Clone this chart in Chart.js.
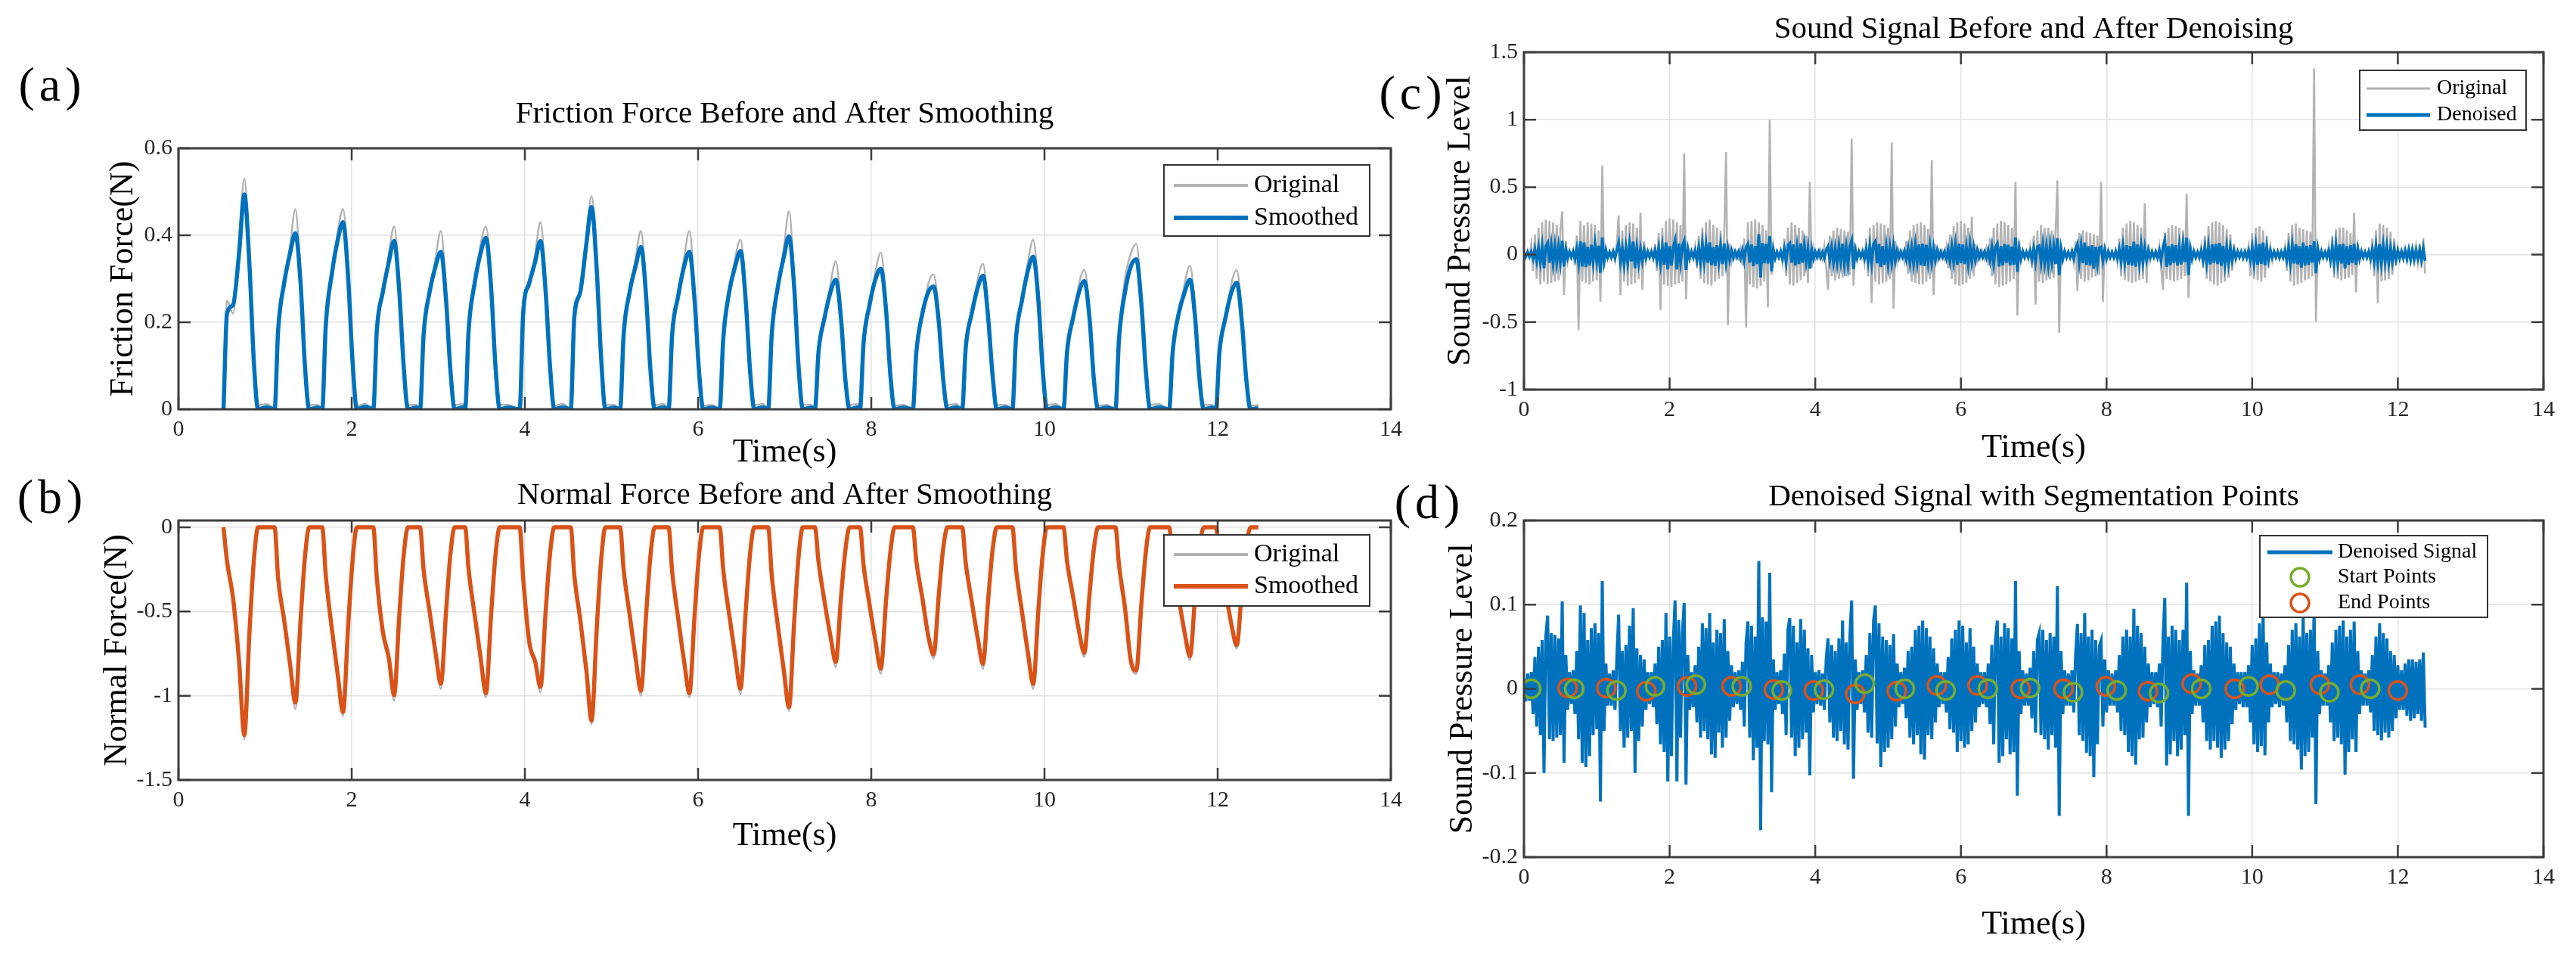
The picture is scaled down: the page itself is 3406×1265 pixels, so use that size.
<!DOCTYPE html>
<html>
<head>
<meta charset="utf-8">
<title>Force and sound signals</title>
<script src="https://cdn.jsdelivr.net/npm/chart.js@4.4.1/dist/chart.umd.min.js"></script>
<style>
  html, body { margin: 0; padding: 0; background: #fff; }
  #page { position: relative; width: 3406px; height: 1265px; overflow: hidden;
          font-family: "Liberation Serif", "Times New Roman", serif; }
  canvas { position: absolute; }
  .tag { position: absolute; font-size: 64px; letter-spacing: 6px; line-height: 1;
         transform: translate(-50%, -50%); color: #000; }
</style>
</head>
<body>
<div id="page">
  <canvas id="chartA" width="1880" height="540" style="left:0px;top:100px"></canvas>
  <canvas id="chartB" width="1880" height="540" style="left:0px;top:620px"></canvas>
  <canvas id="chartC" width="1526" height="640" style="left:1880px;top:0px"></canvas>
  <canvas id="chartD" width="1526" height="645" style="left:1880px;top:620px"></canvas>
  <div class="tag" style="left:69px;top:112px">(a)</div>
  <div class="tag" style="left:69px;top:657px">(b)</div>
  <div class="tag" style="left:1868px;top:123px">(c)</div>
  <div class="tag" style="left:1890px;top:664px">(d)</div>
</div>
<script>
// axis ticks
var timeTicks = [0, 2, 4, 6, 8, 10, 12, 14];
var timeTickLabels = ['0', '2', '4', '6', '8', '10', '12', '14'];
var frictionTicks = [0, 0.2, 0.4, 0.6];
var frictionTickLabels = ['0', '0.2', '0.4', '0.6'];
var normalTicks = [-1.5, -1, -0.5, 0];
var normalTickLabels = ['-1.5', '-1', '-0.5', '0'];
var soundTicks = [-1, -0.5, 0, 0.5, 1, 1.5];
var soundTickLabels = ['-1', '-0.5', '0', '0.5', '1', '1.5'];
var segTicks = [-0.2, -0.1, 0, 0.1, 0.2];
var segTickLabels = ['-0.2', '-0.1', '0', '0.1', '0.2'];

// force signals, one row per loading cycle
var forceTime = [
  0.52,0.56,0.63,0.70,0.76,0.82,0.87,0.92,1.02,
  1.11,1.15,1.22,1.29,1.35,1.41,1.46,1.51,1.61,
  1.66,1.70,1.77,1.84,1.90,1.96,2.01,2.06,2.16,
  2.25,2.29,2.36,2.43,2.49,2.55,2.60,2.65,2.75,
  2.79,2.83,2.90,2.97,3.03,3.09,3.14,3.19,3.29,
  3.31,3.35,3.42,3.49,3.55,3.61,3.66,3.71,3.81,
  3.94,3.98,4.05,4.12,4.18,4.24,4.29,4.34,4.44,
  4.53,4.57,4.64,4.71,4.77,4.83,4.88,4.93,5.03,
  5.10,5.14,5.21,5.28,5.34,5.40,5.45,5.50,5.60,
  5.66,5.70,5.77,5.84,5.90,5.96,6.01,6.06,6.16,
  6.25,6.29,6.36,6.43,6.49,6.55,6.60,6.65,6.75,
  6.81,6.85,6.92,6.99,7.05,7.11,7.16,7.21,7.31,
  7.35,7.39,7.46,7.53,7.59,7.65,7.70,7.75,7.85,
  7.87,7.91,7.98,8.05,8.11,8.17,8.22,8.27,8.37,
  8.48,8.52,8.59,8.66,8.72,8.78,8.83,8.88,8.98,
  9.05,9.09,9.16,9.23,9.29,9.35,9.40,9.45,9.55,
  9.63,9.67,9.74,9.81,9.87,9.93,9.98,10.03,10.13,
  10.22,10.26,10.33,10.40,10.46,10.52,10.57,10.62,10.72,
  10.82,10.86,10.93,11.00,11.06,11.12,11.17,11.22,11.32,
  11.44,11.48,11.55,11.62,11.68,11.74,11.79,11.84,11.94,
  11.98,12.02,12.09,12.16,12.22,12.28,12.33,12.38,12.47
];
var frictionSmoothed = [
  0,0.22,0.24,0.36,0.494,0.33,0.11,0,0.005,
  0,0.18,0.29,0.36,0.405,0.29,0.10,0,0.004,
  0,0.19,0.31,0.39,0.43,0.30,0.11,0,0.006,
  0,0.18,0.27,0.34,0.387,0.27,0.10,0,0.004,
  0,0.17,0.27,0.33,0.362,0.25,0.09,0,0.005,
  0,0.18,0.29,0.36,0.394,0.28,0.10,0,0.004,
  0,0.22,0.29,0.34,0.387,0.27,0.10,0,0.005,
  0,0.21,0.27,0.38,0.465,0.32,0.12,0,0.004,
  0,0.17,0.27,0.33,0.373,0.26,0.09,0,0.005,
  0,0.17,0.26,0.33,0.362,0.25,0.09,0,0.004,
  0,0.16,0.27,0.33,0.364,0.25,0.09,0,0.005,
  0,0.17,0.28,0.35,0.398,0.28,0.10,0,0.004,
  0,0.13,0.21,0.27,0.298,0.21,0.07,0,0.005,
  0,0.15,0.24,0.30,0.323,0.23,0.08,0,0.004,
  0,0.13,0.22,0.27,0.282,0.20,0.07,0,0.005,
  0,0.14,0.22,0.28,0.307,0.21,0.08,0,0.004,
  0,0.16,0.25,0.32,0.351,0.25,0.09,0,0.005,
  0,0.13,0.21,0.27,0.295,0.21,0.07,0,0.004,
  0,0.16,0.27,0.33,0.345,0.24,0.09,0,0.005,
  0,0.13,0.22,0.27,0.298,0.21,0.07,0,0.004,
  0,0.13,0.21,0.27,0.291,0.20,0.07,0,0.003
];
var frictionOriginal = [
  0,0.25,0.22,0.39,0.53,0.35,0.13,0.01,0.012,
  0,0.19,0.28,0.38,0.46,0.30,0.12,0.01,0.01,
  0,0.20,0.30,0.41,0.46,0.32,0.12,0.008,0.012,
  0,0.19,0.26,0.36,0.42,0.29,0.11,0.01,0.01,
  0,0.18,0.26,0.35,0.41,0.27,0.10,0.01,0.012,
  0,0.19,0.28,0.38,0.42,0.30,0.11,0.01,0.01,
  0,0.24,0.28,0.36,0.43,0.29,0.11,0.008,0.012,
  0,0.23,0.26,0.40,0.49,0.34,0.13,0.01,0.01,
  0,0.18,0.26,0.35,0.41,0.28,0.10,0.01,0.012,
  0,0.18,0.25,0.35,0.41,0.27,0.10,0.008,0.01,
  0,0.17,0.26,0.35,0.39,0.27,0.10,0.01,0.012,
  0,0.18,0.27,0.37,0.455,0.30,0.11,0.01,0.01,
  0,0.14,0.20,0.29,0.34,0.23,0.08,0.01,0.012,
  0,0.16,0.23,0.32,0.36,0.25,0.09,0.008,0.01,
  0,0.14,0.21,0.29,0.31,0.22,0.08,0.01,0.012,
  0,0.15,0.21,0.30,0.335,0.23,0.09,0.01,0.01,
  0,0.17,0.24,0.34,0.39,0.27,0.10,0.01,0.012,
  0,0.14,0.20,0.29,0.32,0.23,0.08,0.008,0.01,
  0,0.17,0.30,0.36,0.38,0.26,0.10,0.01,0.012,
  0,0.14,0.21,0.29,0.33,0.23,0.08,0.01,0.01,
  0,0.14,0.20,0.29,0.32,0.22,0.08,0.008,0.01
];
var normalSmoothed = [
  0,-0.20,-0.42,-0.80,-1.233,-0.62,-0.20,0,0,
  0,-0.30,-0.55,-0.82,-1.04,-0.55,-0.18,0,0,
  0,-0.28,-0.60,-0.88,-1.096,-0.58,-0.20,0,0,
  0,-0.30,-0.62,-0.78,-0.996,-0.52,-0.17,0,0,
  0,-0.25,-0.50,-0.75,-0.93,-0.50,-0.16,0,0,
  0,-0.25,-0.52,-0.78,-0.985,-0.52,-0.17,0,0,
  0,-0.30,-0.68,-0.80,-0.948,-0.50,-0.16,0,0,
  0,-0.28,-0.55,-0.85,-1.147,-0.60,-0.20,0,0,
  0,-0.25,-0.52,-0.78,-0.97,-0.52,-0.17,0,0,
  0,-0.26,-0.54,-0.80,-0.985,-0.52,-0.17,0,0,
  0,-0.25,-0.52,-0.77,-0.958,-0.50,-0.16,0,0,
  0,-0.28,-0.58,-0.85,-1.068,-0.56,-0.18,0,0,
  0,-0.20,-0.44,-0.65,-0.80,-0.42,-0.14,0,0,
  0,-0.22,-0.46,-0.68,-0.84,-0.44,-0.15,0,0,
  0,-0.20,-0.42,-0.65,-0.755,-0.40,-0.13,0,0,
  0,-0.21,-0.44,-0.66,-0.81,-0.43,-0.14,0,0,
  0,-0.24,-0.50,-0.75,-0.93,-0.49,-0.16,0,0,
  0,-0.20,-0.41,-0.62,-0.746,-0.40,-0.13,0,0,
  0,-0.22,-0.48,-0.80,-0.85,-0.45,-0.15,0,0,
  0,-0.20,-0.42,-0.63,-0.765,-0.41,-0.13,0,0,
  0,-0.18,-0.38,-0.58,-0.70,-0.37,-0.12,0,0
];
var normalOriginal = [
  0,-0.22,-0.44,-0.83,-1.26,-0.64,-0.22,-0.01,0.005,
  0,-0.31,-0.57,-0.84,-1.08,-0.57,-0.19,-0.01,0.005,
  0,-0.29,-0.62,-0.90,-1.12,-0.60,-0.21,-0.01,0.005,
  0,-0.31,-0.64,-0.80,-1.03,-0.54,-0.18,-0.01,0.005,
  0,-0.26,-0.52,-0.77,-0.96,-0.52,-0.17,-0.01,0.005,
  0,-0.26,-0.54,-0.80,-1.01,-0.54,-0.18,-0.01,0.005,
  0,-0.31,-0.70,-0.82,-0.98,-0.52,-0.17,-0.01,0.005,
  0,-0.29,-0.57,-0.87,-1.17,-0.62,-0.21,-0.01,0.005,
  0,-0.26,-0.54,-0.80,-1.00,-0.54,-0.18,-0.01,0.005,
  0,-0.27,-0.56,-0.82,-1.01,-0.54,-0.18,-0.01,0.005,
  0,-0.26,-0.54,-0.79,-0.99,-0.52,-0.17,-0.01,0.005,
  0,-0.29,-0.60,-0.87,-1.09,-0.58,-0.19,-0.01,0.005,
  0,-0.21,-0.46,-0.67,-0.83,-0.44,-0.15,-0.01,0.005,
  0,-0.23,-0.48,-0.70,-0.87,-0.46,-0.16,-0.01,0.005,
  0,-0.21,-0.44,-0.67,-0.78,-0.42,-0.14,-0.01,0.005,
  0,-0.22,-0.46,-0.68,-0.84,-0.45,-0.15,-0.01,0.005,
  0,-0.25,-0.52,-0.77,-0.96,-0.51,-0.17,-0.01,0.005,
  0,-0.21,-0.43,-0.64,-0.77,-0.42,-0.14,-0.01,0.005,
  0,-0.23,-0.50,-0.82,-0.87,-0.47,-0.16,-0.01,0.005,
  0,-0.21,-0.44,-0.65,-0.79,-0.43,-0.14,-0.01,0.005,
  0,-0.19,-0.40,-0.60,-0.72,-0.39,-0.13,-0.01,0.005
];

// sound signals, one sample every 0.025 s, 20 samples per row (0.5 s)
var soundStep = 0.025;
// raw sound pressure, in hundredths
var soundOriginal = [
  2,-2,3,-2,8,-12,15,-18,20,-22,24,-20,26,-22,25,-21,24,-20,22,-19,
  18,32,-30,10,-5,3,-2,3,-8,14,-56,25,-20,22,-21,24,-22,23,-20,22,
  -19,18,-35,66,-10,5,-3,2,-2,3,-4,8,29,-30,18,-20,22,-23,24,-22,
  23,-21,20,-18,31,-26,10,-5,3,-2,3,-3,8,-12,16,-41,20,-22,25,-23,
  27,-24,26,-22,24,-21,22,-20,75,-33,8,-4,3,-2,6,-10,14,-18,20,-21,
  24,-22,26,-23,22,-20,20,-18,18,-16,14,76,-52,8,-5,3,-2,2,-3,4,
  -8,12,-54,24,-22,25,-24,26,-25,24,-23,22,-20,18,-39,100,-15,6,-3,2,
  -2,3,-6,12,-16,20,-22,24,-23,22,-21,20,-19,18,-16,14,-21,54,-10,5,
  -3,2,-2,3,-3,6,-10,-26,14,-16,18,-19,20,-18,19,-17,18,-16,17,-15,
  86,-23,8,-4,3,-2,3,-6,12,-16,20,-36,22,-20,24,-22,23,-21,22,-20,
  20,-18,83,-40,10,-5,3,-2,2,-5,10,-14,18,-20,22,-21,23,-22,24,-22,
  22,-20,19,-18,70,-30,8,-4,3,-2,2,-3,6,-10,15,-18,21,-22,24,-23,
  25,-22,23,-21,20,-18,28,-16,8,-4,3,-2,2,-3,4,-8,12,-16,20,-22,
  23,-24,25,-23,24,-22,22,-20,20,-18,54,-45,10,-5,3,-2,2,-3,6,-10,
  14,-37,18,-20,22,-21,20,-19,20,-18,18,-17,16,55,-58,8,-5,3,-2,2,
  -2,3,-6,10,-27,16,-18,18,-20,17,-19,16,-17,15,-16,14,-15,54,-35,8,
  -4,3,-2,2,-3,3,-6,12,-16,20,-19,23,-20,25,-21,24,-20,22,-19,20,
  -18,38,-21,8,-4,3,-2,2,-3,6,-10,-26,16,-18,20,-19,22,-20,21,-19,
  20,-18,18,-16,45,-32,8,-4,3,-2,2,-3,6,-10,14,-18,21,-20,24,-22,
  25,-23,24,-21,22,-20,19,-17,15,-12,8,-4,3,-2,2,-3,3,-2,6,-16,
  16,-18,20,-19,21,-20,18,-17,14,-10,6,-4,3,-2,2,-3,3,-2,6,-12,
  16,-20,22,-23,23,-22,20,-21,19,-19,18,-18,17,-16,138,-50,8,-4,3,-2,
  2,-3,6,-10,14,-17,19,-18,20,-19,20,-18,18,-17,16,-15,31,-28,8,-4,
  3,-2,2,-3,3,-6,12,-16,18,-36,23,-20,22,-19,20,-18,17,-15,12,-8,
  5,-4,3,-3,3,-2,3,-3,4,-5,6,-6,8,-10,12,-14
];
// denoised sound pressure, in thousandths
var soundDenoised = [
  12,-15,18,-14,20,-30,38,-45,50,-55,58,-100,62,87,-60,66,-62,64,-58,60,
  -55,104,-88,40,-25,20,-18,22,-30,45,-60,99,-88,90,-93,58,-80,72,-55,78,
  -48,66,-134,128,-50,30,-20,18,-20,22,-25,35,88,-50,45,-70,52,-58,75,-50,
  96,-100,48,-62,40,-45,35,-25,20,-18,20,-22,30,-42,50,-66,58,-75,90,-110,
  62,-80,55,105,-110,82,-58,66,102,-114,40,-25,20,-22,28,-40,50,-58,78,-50,
  72,-60,90,-78,55,-82,70,-52,66,-70,83,-58,45,-38,28,-22,20,-18,22,-25,
  32,-45,55,80,-58,75,-85,62,-70,152,-168,85,-62,80,-66,138,-123,35,-25,20,
  -18,22,-30,42,-55,70,84,-58,75,-80,55,-70,83,-60,70,-52,48,-103,40,-28,
  20,-18,22,-20,18,-25,35,60,-40,52,-58,45,-62,60,-50,81,-66,55,-72,62,
  105,-107,35,-25,20,-18,22,-28,40,-52,66,-58,80,99,-65,78,-93,62,-75,58,
  -70,52,-60,65,-45,30,-22,20,-18,25,-35,45,-58,50,-66,70,-55,75,-78,81,
  -84,72,-55,62,-60,48,-40,30,-22,20,-18,20,-28,38,-48,60,-52,70,-75,81,
  -62,75,-70,55,-66,72,-50,50,-40,30,-22,20,-18,20,-22,30,-42,52,-66,58,
  81,-88,62,-80,78,-60,72,-78,60,-75,128,-127,45,-30,22,-20,18,-20,25,-35,
  45,-52,58,66,-55,70,-60,58,-72,66,-55,62,-70,122,-151,45,-30,22,-20,18,
  -20,22,-28,40,77,-55,66,-62,90,-76,62,-80,70,-105,58,-66,50,57,-45,35,
  -28,22,-20,18,-20,22,-28,40,-50,62,-55,70,-75,62,-80,95,-90,75,-60,66,
  -58,50,-40,30,-22,20,-18,20,-22,30,-45,58,108,-91,62,-78,75,-62,70,-80,
  58,-72,70,-55,126,-151,45,-30,22,-20,18,-20,28,-40,52,-62,58,-72,75,-62,
  80,-70,87,-82,66,-72,55,-62,50,-42,30,-25,20,-18,20,-22,20,-22,28,-40,
  52,-66,60,-75,78,-68,90,-79,55,-40,30,-22,20,-18,20,-22,18,-20,28,-40,
  52,-62,70,-66,78,-72,62,-96,90,-80,66,-75,70,-58,100,-137,45,-30,22,-20,
  18,-20,28,-40,55,-62,70,-58,75,-66,81,-102,62,-75,70,-60,80,-75,45,-30,
  22,-20,18,-20,22,-28,40,-50,62,-55,78,-61,66,-52,60,-58,45,-50,40,-35,
  28,-25,22,-25,30,-32,35,-38,35,-35,32,-30,35,-38,43,-46
];

// segmentation points found on the denoised signal
var startTimes = [0.10,0.69,1.27,1.80,2.36,2.99,3.54,4.12,4.68,5.23,5.79,6.37,6.95,7.54,8.14,8.72,9.30,9.95,10.46,11.06,11.62];
var startLevels = [0,0,-0.002,0.003,0.005,0.003,-0.002,-0.001,0.006,0,-0.002,0,0.001,-0.004,-0.002,-0.005,0,0.003,-0.002,-0.004,0];
var endTimes = [0.60,1.13,1.68,2.24,2.85,3.43,3.98,4.55,5.12,5.67,6.23,6.82,7.41,7.99,8.57,9.17,9.76,10.24,10.93,11.48,12.00];
var endLevels = [0.001,0.001,-0.003,0.003,0.003,-0.001,-0.002,-0.006,-0.003,0.004,0.004,0,0,0.003,-0.003,0.006,0,0.005,0.005,0.005,-0.002];

var FONT = '"Liberation Serif", "Times New Roman", serif';
Chart.defaults.font.family = FONT;
Chart.defaults.color = '#262626';

var BLUE = '#0072bd', ORANGE = '#d95319', GREEN = '#77ac30', GRAY = '#b3b3b3';

function pairs(xs, ys, k) {
    return ys.map(function (v, i) { return { x: xs[i], y: v * (k || 1) }; });
}
function sampled(ys, k) {
    return ys.map(function (v, i) { return { x: +(i * soundStep).toFixed(3), y: v * k }; });
}

// matlab style box: frame, inward ticks on four sides, legend inside the axes
var frameTicks = {
    id: 'frameTicks',
    afterDatasetsDraw: function (chart, args, opts) {
        var ctx = chart.ctx, a = chart.chartArea, sx = chart.scales.x, sy = chart.scales.y;
        ctx.save();
        ctx.strokeStyle = '#3d3d3d';
        ctx.lineWidth = 2.5;
        ctx.beginPath();
        sx.ticks.forEach(function (t) {
            var p = sx.getPixelForValue(t.value);
            ctx.moveTo(p, a.bottom); ctx.lineTo(p, a.bottom - 16);
            ctx.moveTo(p, a.top); ctx.lineTo(p, a.top + 16);
        });
        sy.ticks.forEach(function (t) {
            var p = sy.getPixelForValue(t.value);
            ctx.moveTo(a.left, p); ctx.lineTo(a.left + 16, p);
            ctx.moveTo(a.right, p); ctx.lineTo(a.right - 16, p);
        });
        ctx.stroke();
        ctx.lineWidth = 3;
        ctx.strokeRect(a.left, a.top, a.right - a.left, a.bottom - a.top);

        var lg = opts.box;
        if (lg) {
            var ox = chart.canvas.offsetLeft, oy = chart.canvas.offsetTop;
            ctx.fillStyle = '#fff';
            ctx.fillRect(lg.x - ox, lg.y - oy, lg.w, lg.h);
            ctx.strokeStyle = '#333';
            ctx.lineWidth = 2;
            ctx.strokeRect(lg.x - ox, lg.y - oy, lg.w, lg.h);
            ctx.font = lg.size + 'px ' + FONT;
            ctx.textBaseline = 'middle';
            ctx.textAlign = 'left';
            lg.items.forEach(function (idx, k) {
                var ds = chart.data.datasets[idx];
                var cy = lg.rows[k] - oy;
                ctx.strokeStyle = ds.borderColor;
                ctx.beginPath();
                if (ds.showLine === false) {
                    ctx.lineWidth = ds.pointBorderWidth;
                    ctx.arc((lg.line[0] + lg.line[1]) / 2 - ox, cy, ds.pointRadius, 0, Math.PI * 2);
                } else {
                    ctx.lineWidth = lg.widths[k];
                    ctx.moveTo(lg.line[0] - ox, cy);
                    ctx.lineTo(lg.line[1] - ox, cy);
                }
                ctx.stroke();
                ctx.fillStyle = '#000';
                ctx.fillText(ds.label, lg.textX - ox, cy);
            });
        }
        ctx.restore();
    }
};

function makePanel(id, geo, yAxis, datasets, box) {
    var canvas = document.getElementById(id);
    var cx = canvas.offsetLeft, cy = canvas.offsetTop;
    var cw = canvas.width, ch = canvas.height;
    var tHalf = 41 * 1.2 / 2, aHalf = 44 * 1.2 / 2;
    var xH = geo.xTitleY - geo.B + aHalf + 4;
    var grid = { color: '#e2e2e2', lineWidth: 1.5, drawTicks: false };

    return new Chart(canvas, {
        type: 'line',
        data: { datasets: datasets },
        options: {
            responsive: false,
            animation: false,
            events: [],
            layout: {
                padding: {
                    left: 0,
                    top: geo.titleY - cy - tHalf,
                    right: cx + cw - geo.R,
                    bottom: cy + ch - geo.B - xH
                }
            },
            elements: { point: { radius: 0 }, line: { tension: 0 } },
            plugins: {
                legend: { display: false },
                tooltip: { enabled: false },
                title: {
                    display: true,
                    fullSize: false,
                    text: geo.title,
                    color: '#000',
                    font: { size: 41, weight: 'normal' },
                    padding: { top: 0, bottom: geo.T - geo.titleY - tHalf }
                },
                frameTicks: { box: box }
            },
            scales: {
                x: {
                    type: 'linear', min: 0, max: 14,
                    afterBuildTicks: function (s) { s.ticks = timeTicks.map(function (v) { return { value: v }; }); },
                    afterFit: function (s) { s.height = xH; },
                    ticks: {
                        padding: 9, font: { size: 30 }, maxRotation: 0, autoSkip: false,
                        callback: function (v, i) { return timeTickLabels[i]; }
                    },
                    grid: grid,
                    border: { display: false },
                    title: { display: true, text: 'Time(s)', color: '#000', font: { size: 44 }, padding: { top: 0, bottom: 4 } }
                },
                y: {
                    type: 'linear', min: yAxis.min, max: yAxis.max,
                    afterBuildTicks: function (s) { s.ticks = yAxis.ticks.map(function (v) { return { value: v }; }); },
                    afterFit: function (s) { s.width = geo.L - cx; },
                    ticks: {
                        padding: 8, font: { size: 30 }, autoSkip: false,
                        callback: function (v, i) { return yAxis.labels[i]; }
                    },
                    grid: grid,
                    border: { display: false },
                    title: {
                        display: true, text: yAxis.title, color: '#000', font: { size: 44 },
                        padding: { top: geo.yTitleX - cx - aHalf, bottom: 0 }
                    }
                }
            }
        },
        plugins: [frameTicks]
    });
}

// (a) friction force
makePanel('chartA',
    { title: 'Friction Force Before and After Smoothing', L: 236, T: 196, R: 1839, B: 541, titleY: 151, xTitleY: 598, yTitleX: 163 },
    { min: 0, max: 0.6, ticks: frictionTicks, labels: frictionTickLabels, title: 'Friction Force(N)' },
    [
        { label: 'Smoothed', data: pairs(forceTime, frictionSmoothed), borderColor: BLUE, borderWidth: 5.5, cubicInterpolationMode: 'monotone' },
        { label: 'Original', data: pairs(forceTime, frictionOriginal), borderColor: GRAY, borderWidth: 2.5, cubicInterpolationMode: 'monotone' }
    ],
    { x: 1539, y: 218, w: 272, h: 94, rows: [245, 288], items: [1, 0], widths: [4, 6], line: [1552, 1650], textX: 1658, size: 34 }
);

// (b) normal force
makePanel('chartB',
    { title: 'Normal Force Before and After Smoothing', L: 236, T: 688, R: 1839, B: 1031, titleY: 655, xTitleY: 1105, yTitleX: 155 },
    { min: -1.5, max: 0.04, ticks: normalTicks, labels: normalTickLabels, title: 'Normal Force(N)' },
    [
        { label: 'Smoothed', data: pairs(forceTime, normalSmoothed), borderColor: ORANGE, borderWidth: 5.5, cubicInterpolationMode: 'monotone' },
        { label: 'Original', data: pairs(forceTime, normalOriginal), borderColor: GRAY, borderWidth: 2.5, cubicInterpolationMode: 'monotone' }
    ],
    { x: 1539, y: 707, w: 272, h: 94, rows: [733, 775], items: [1, 0], widths: [4, 6], line: [1552, 1650], textX: 1658, size: 34 }
);

// (c) sound before / after denoising
makePanel('chartC',
    { title: 'Sound Signal Before and After Denoising', L: 2015, T: 69, R: 3363, B: 515, titleY: 39, xTitleY: 592, yTitleX: 1931 },
    { min: -1, max: 1.5, ticks: soundTicks, labels: soundTickLabels, title: 'Sound Pressure Level' },
    [
        { label: 'Denoised', data: sampled(soundDenoised, 0.001), borderColor: BLUE, borderWidth: 3.8 },
        { label: 'Original', data: sampled(soundOriginal, 0.01), borderColor: GRAY, borderWidth: 2.6 }
    ],
    { x: 3120, y: 93, w: 220, h: 79, rows: [117, 152], items: [1, 0], widths: [3, 5], line: [3129, 3213], textX: 3222, size: 28 }
);

// (d) segmentation
makePanel('chartD',
    { title: 'Denoised Signal with Segmentation Points', L: 2015, T: 688, R: 3363, B: 1133, titleY: 657, xTitleY: 1222, yTitleX: 1934 },
    { min: -0.2, max: 0.2, ticks: segTicks, labels: segTickLabels, title: 'Sound Pressure Level' },
    [
        { label: 'Start Points', data: pairs(startTimes, startLevels), showLine: false, borderColor: GREEN,
          backgroundColor: 'rgba(0,0,0,0)', pointRadius: 12, pointBorderWidth: 3.5 },
        { label: 'End Points', data: pairs(endTimes, endLevels), showLine: false, borderColor: ORANGE,
          backgroundColor: 'rgba(0,0,0,0)', pointRadius: 12, pointBorderWidth: 3.5 },
        { label: 'Denoised Signal', data: sampled(soundDenoised, 0.001), borderColor: BLUE, borderWidth: 4 }
    ],
    { x: 2988, y: 708, w: 301, h: 108, rows: [730, 763, 797], items: [2, 0, 1], widths: [5, 0, 0], line: [2998, 3084], textX: 3091, size: 28 }
);
</script>
</body>
</html>
